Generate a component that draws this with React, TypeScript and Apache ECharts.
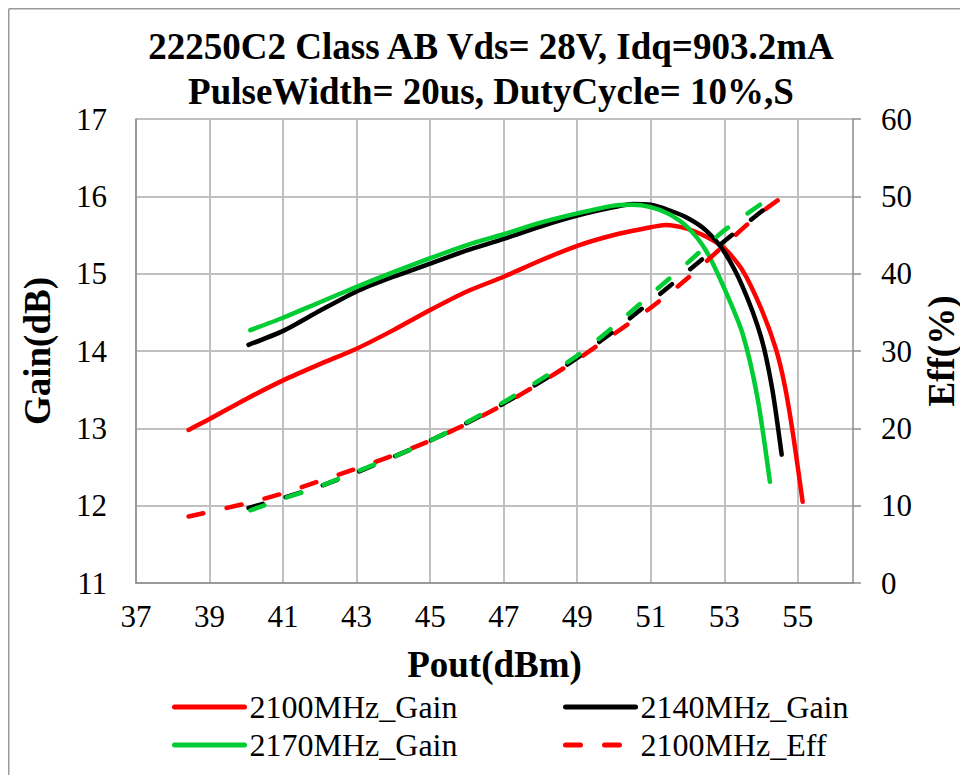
import React, { useEffect, useRef } from "react";
import * as echarts from "echarts";

const FONT = '"Times New Roman", "Liberation Serif", serif';

const titleLines = [
  "22250C2 Class AB Vds= 28V, Idq=903.2mA",
  "PulseWidth= 20us, DutyCycle= 10%,S",
];
const xTicks = [37, 39, 41, 43, 45, 47, 49, 51, 53, 55];
const seriesNames = [
  "2100MHz_Gain",
  "2140MHz_Gain",
  "2170MHz_Gain",
  "2100MHz_Eff",
  "2140MHz_Eff",
  "2170MHz_Eff",
];

const gain2100: [number, number][] = [
  [38.43, 12.98], [39.0, 13.12], [40.0, 13.38], [41.0, 13.62], [42.0, 13.83],
  [43.0, 14.03], [44.0, 14.27], [45.0, 14.53], [46.0, 14.77], [47.0, 14.96],
  [48.0, 15.17], [49.0, 15.36], [50.0, 15.5], [51.0, 15.6], [51.4, 15.63],
  [52.0, 15.58], [52.5, 15.48], [53.0, 15.33], [53.5, 15.04], [54.0, 14.55],
  [54.4, 14.03], [54.65, 13.54], [54.88, 12.89], [55.13, 12.05],
];
const gain2140: [number, number][] = [
  [40.06, 14.08], [41.0, 14.26], [42.0, 14.52], [43.0, 14.77], [44.0, 14.96],
  [45.0, 15.13], [46.0, 15.3], [47.0, 15.45], [48.0, 15.61], [49.0, 15.75],
  [50.0, 15.86], [50.5, 15.9], [51.0, 15.89], [51.5, 15.82], [52.0, 15.72],
  [52.5, 15.56], [53.0, 15.28], [53.5, 14.83], [54.0, 14.18], [54.3, 13.52],
  [54.56, 12.66],
];
const gain2170: [number, number][] = [
  [40.11, 14.27], [41.0, 14.43], [42.0, 14.63], [43.0, 14.83], [44.0, 15.02],
  [45.0, 15.2], [46.0, 15.37], [47.0, 15.51], [48.0, 15.66], [49.0, 15.78],
  [50.0, 15.88], [50.5, 15.89], [51.0, 15.86], [51.5, 15.77], [52.0, 15.6],
  [52.5, 15.3], [53.0, 14.81], [53.5, 14.22], [53.9, 13.4], [54.24, 12.31],
];
const eff2100: [number, number][] = [
  [38.43, 8.6], [39.0, 9.2], [40.0, 10.3], [41.0, 11.6], [42.0, 13.2],
  [43.0, 14.8], [44.0, 16.5], [45.0, 18.4], [46.0, 20.6], [47.0, 23.1],
  [48.0, 25.9], [49.0, 28.9], [50.0, 32.2], [51.0, 35.6], [52.0, 39.4],
  [53.0, 43.7], [54.0, 47.9], [54.79, 50.6],
];
const eff2140: [number, number][] = [
  [40.06, 9.7], [41.0, 11.0], [42.0, 12.5], [43.0, 14.3], [44.0, 16.3],
  [45.0, 18.4], [46.0, 20.7], [47.0, 23.2], [48.0, 26.0], [49.0, 29.1],
  [50.0, 32.6], [51.0, 36.4], [52.0, 40.3], [53.0, 44.2], [54.0, 48.0],
  [54.3, 49.0],
];
const eff2170: [number, number][] = [
  [40.11, 9.4], [41.0, 10.9], [42.0, 12.5], [43.0, 14.4], [44.0, 16.3],
  [45.0, 18.4], [46.0, 20.8], [47.0, 23.4], [48.0, 26.3], [49.0, 29.4],
  [50.0, 33.2], [51.0, 37.3], [52.0, 41.4], [53.0, 45.6], [54.24, 49.8],
];

const RED = "#ff0000";
const BLACK = "#000000";
const GREEN = "#00cc33";
const GRID = "#c0c0c0";
const AXIS = "#8c8c8c";

export default function App() {
  const ref = useRef<HTMLDivElement>(null);
  useEffect(() => {
    if (!ref.current) return;
    const chart = echarts.init(ref.current, undefined, { renderer: "svg" });
    const lineW = 4.5;
    const dash = [15, 24];
    const mk = (name: string, data: [number, number][], color: string, yIdx: number, dashed: boolean) => ({
      name,
      type: "line",
      data,
      yAxisIndex: yIdx,
      symbol: "none",
      smooth: 0.25,
      lineStyle: { color, width: lineW, type: dashed ? dash : "solid", cap: "round" },
      itemStyle: { color, opacity: 0 },
      z: 3,
    });
    const legendBase = {
      orient: "horizontal",
      padding: 0,
      itemWidth: 70,
      itemHeight: 10,
      selectedMode: false,
      itemStyle: { opacity: 0, borderWidth: 0 },
      lineStyle: { width: 5 },
      textStyle: { fontFamily: FONT, fontSize: 32, color: "#000" },
    };
    chart.setOption({
      animation: false,
      graphic: [
        {
          type: "line",
          shape: { x1: 0.75, y1: 0.75, x2: 952, y2: 0.75 },
          style: { stroke: "#9a9a9a", lineWidth: 1.5 },
        },
        {
          type: "line",
          shape: { x1: 0.75, y1: 0.75, x2: 0.75, y2: 767 },
          style: { stroke: "#9a9a9a", lineWidth: 1.5 },
        },
        {
          type: "text",
          x: 483,
          y: 16,
          style: {
            text: titleLines.join("\n"),
            align: "center",
            verticalAlign: "top",
            fontFamily: FONT,
            fontWeight: "bold",
            fontSize: 37,
            lineHeight: 45,
            fill: "#000",
          },
        },
      ],
      grid: {
        left: 128,
        top: 111,
        width: 717,
        height: 464,
        containLabel: false,
        outerBoundsMode: "none",
      },
      legend: [
        { ...legendBase, left: 164, top: 683, data: [seriesNames[0]] },
        { ...legendBase, left: 555, top: 683, data: [seriesNames[1]] },
        { ...legendBase, left: 164, top: 721, data: [seriesNames[2]] },
        { ...legendBase, left: 555, top: 721, data: [seriesNames[3]] },
      ],
      xAxis: {
        type: "value",
        min: 37,
        max: 56.5,
        name: "Pout(dBm)",
        nameLocation: "middle",
        nameGap: 63,
        nameTextStyle: { fontFamily: FONT, fontSize: 37, fontWeight: "bold", color: "#000" },
        axisLine: { show: true, onZero: false, lineStyle: { color: AXIS, width: 1.5 } },
        axisTick: { show: false, customValues: xTicks },
        axisLabel: {
          customValues: xTicks,
          margin: 18,
          fontFamily: FONT,
          fontSize: 31,
          color: "#000",
        },
        splitLine: { show: true, lineStyle: { color: GRID, width: 2 } },
      },
      yAxis: [
        {
          type: "value",
          min: 11,
          max: 17,
          interval: 1,
          position: "left",
          name: "Gain(dB)",
          nameLocation: "middle",
          nameGap: 80,
          nameTextStyle: { fontFamily: FONT, fontSize: 37, fontWeight: "bold", color: "#000" },
          axisLine: { show: true, lineStyle: { color: AXIS, width: 1.5 } },
          axisTick: { show: false },
          axisLabel: { margin: 29, fontFamily: FONT, fontSize: 31, color: "#000" },
          splitLine: { show: true, lineStyle: { color: GRID, width: 2 } },
        },
        {
          type: "value",
          min: 0,
          max: 60,
          interval: 10,
          position: "right",
          name: "Eff(%)",
          nameLocation: "middle",
          nameGap: 64,
          nameTextStyle: { fontFamily: FONT, fontSize: 37, fontWeight: "bold", color: "#000" },
          axisLine: { show: true, lineStyle: { color: AXIS, width: 1.5 } },
          axisTick: { show: true, inside: false, length: 8, lineStyle: { color: AXIS, width: 1.5 } },
          axisLabel: { margin: 28, fontFamily: FONT, fontSize: 31, color: "#000" },
          splitLine: { show: false },
        },
      ],
      series: [
        mk(seriesNames[0], gain2100, RED, 0, false),
        mk(seriesNames[1], gain2140, BLACK, 0, false),
        mk(seriesNames[2], gain2170, GREEN, 0, false),
        mk(seriesNames[3], eff2100, RED, 1, true),
        mk(seriesNames[4], eff2140, BLACK, 1, true),
        mk(seriesNames[5], eff2170, GREEN, 1, true),
      ],
    });
    return () => chart.dispose();
  }, []);
  return (
    <div
      ref={ref}
      style={{ position: "absolute", left: 8, top: 8, width: 952, height: 767 }}
    />
  );
}
